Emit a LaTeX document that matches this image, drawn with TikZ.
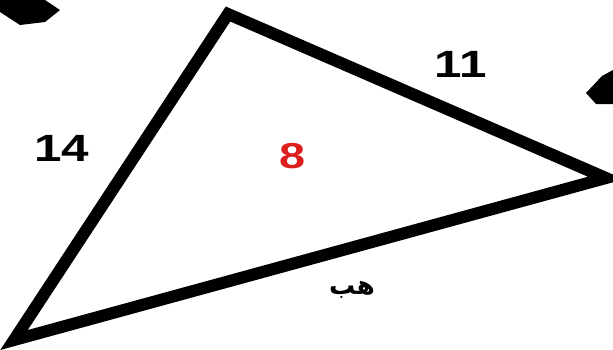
\documentclass[tikz,border=0pt]{standalone}
\usepackage{fontspec}
\setmainfont{Liberation Sans}
\newfontfamily\arabicfont[Script=Arabic]{DejaVu Sans}
\TeXXeTstate=1
\newcommand{\wide}[1]{\scalebox{1.3}[1]{#1}}
\begin{document}
\begin{tikzpicture}[x=1pt,y=-1pt]
\tikzset{edge/.style={line width=12pt,line join=miter},
  lbl/.style={font=\bfseries\fontsize{38}{38}\selectfont,inner sep=0pt}}
\useasboundingbox (0,0) rectangle (613,349);
\coordinate (A) at (228,14);
\coordinate (B) at (606,178);
\coordinate (C) at (14,340);
\draw[edge] (A) -- (B) -- (C) -- cycle;
\fill (0,0) -- (45,0) -- (60,10) -- (45,22) -- (20,25) -- (0,12) -- cycle;
\fill (586,93) -- (602,76) -- (613,70) -- (613,104) -- (596,104) -- cycle;
\node[lbl] (l14) at (62,148) {\wide{14}};
\node[lbl] (l11) at (461,64) {\wide{11}};
\node[lbl,text={rgb,255:red,220;green,30;blue,30},font=\bfseries\fontsize{36}{36}\selectfont] (l8) at (293,156) {\wide{8}};
\node[inner sep=0pt,font=\arabicfont\bfseries\fontsize{26}{26}\selectfont] (lar) at (352,290) {\beginR هب\endR};
\end{tikzpicture}
\end{document}
